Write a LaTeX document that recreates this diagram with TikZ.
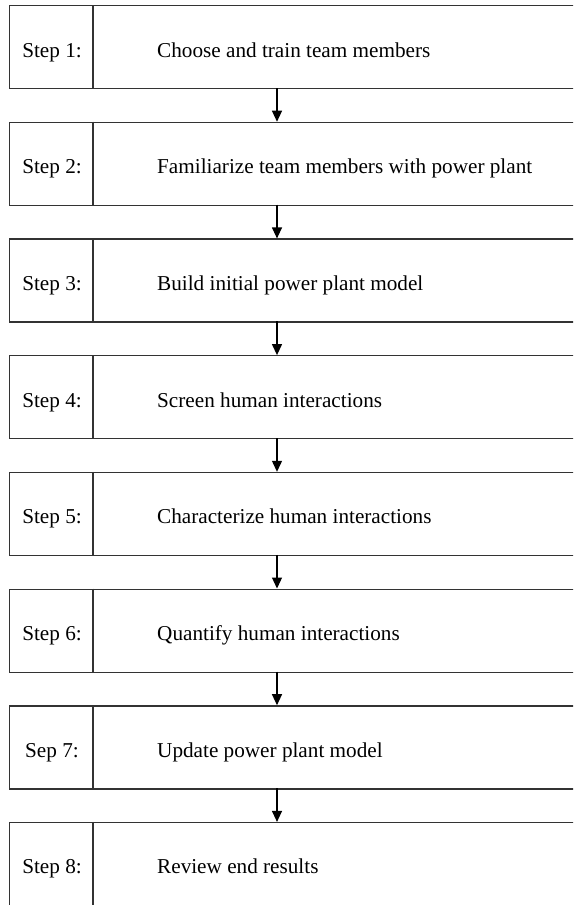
\documentclass[tikz,border=0pt]{standalone}
\usepackage{fontspec}
\setmainfont{Liberation Serif}
\usetikzlibrary{arrows.meta}
\begin{document}
\begin{tikzpicture}[x=1pt,y=-1pt,
  stepbox/.style={draw=black!80,line width=1.3pt,rectangle,inner sep=0pt,
    minimum width=600pt,minimum height=83pt,anchor=north west},
  divider/.style={draw=black!80,line width=1.3pt},
  steplbl/.style={anchor=base,inner sep=0pt,font=\fontsize{21.2}{24}\selectfont},
  steptxt/.style={anchor=base west,inner sep=0pt,font=\fontsize{21.2}{24}\selectfont},
  flow/.style={draw=black,line width=1.2pt,-{Triangle[width=10pt,length=11pt]}}]
\useasboundingbox (0,0) rectangle (573,905);
\clip (0,0) rectangle (573,905);
\fill[white] (0,0) rectangle (573,905);
\foreach \i/\lbl/\txt in {
  1/Step 1:/Choose and train team members,
  2/Step 2:/Familiarize team members with power plant,
  3/Step 3:/Build initial power plant model,
  4/Step 4:/Screen human interactions,
  5/Step 5:/Characterize human interactions,
  6/Step 6:/Quantify human interactions,
  7/Sep 7:/Update power plant model,
  8/Step 8:/Review end results}{
  \pgfmathsetmacro{\top}{5+(\i-1)*116.7}
  \node[stepbox] (b\i) at (9,\top) {};
  \draw[divider] ([xshift=84pt]b\i.north west) -- ([xshift=84pt]b\i.south west);
  \node[steplbl] (l\i) at (52,\top+52) {\lbl};
  \node[steptxt] (t\i) at (157,\top+52) {\txt};
  \coordinate (in\i) at (277,\top);
  \coordinate (out\i) at (277,\top+83);
}
\foreach \i [evaluate=\i as \j using int(\i+1)] in {1,...,7}
  \draw[flow] (out\i) -- (in\j);
\end{tikzpicture}
\end{document}
